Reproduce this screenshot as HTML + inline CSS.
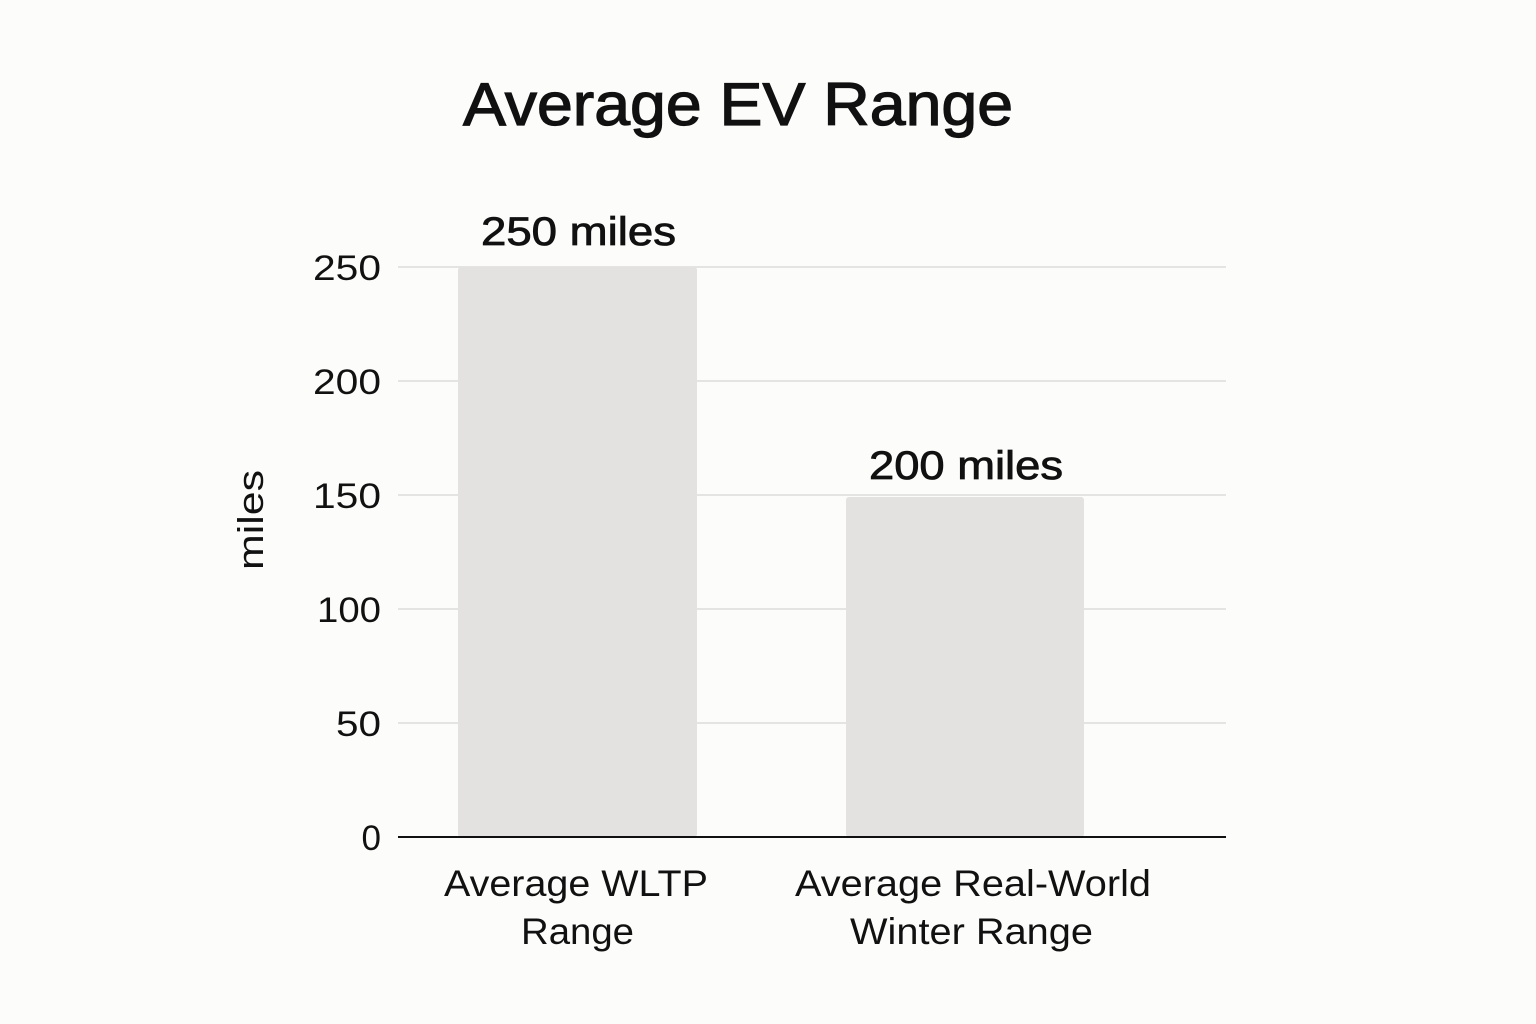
<!DOCTYPE html>
<html><head><style>
html,body{margin:0;padding:0;background:#fcfcfa;}
body{width:1536px;height:1024px;position:relative;overflow:hidden;font-family:"Liberation Sans",sans-serif;color:#111;}
</style></head><body>
<svg width="1536" height="1024" style="position:absolute;left:0;top:0">
<g stroke="#e4e4e2" stroke-width="2">
<line x1="398" y1="267" x2="1226" y2="267"/>
<line x1="398" y1="381" x2="1226" y2="381"/>
<line x1="398" y1="495" x2="1226" y2="495"/>
<line x1="398" y1="609" x2="1226" y2="609"/>
<line x1="398" y1="723" x2="1226" y2="723"/>
</g>
<rect x="458" y="267" width="239" height="570" rx="3" fill="#e4e2e0"/>
<rect x="846" y="497" width="238" height="340" rx="3" fill="#e4e2e0"/>
<line x1="398" y1="837" x2="1226" y2="837" stroke="#111" stroke-width="2"/>
<g font-family="Liberation Sans, sans-serif" fill="#111">
<text x="463" y="125" font-size="60" textLength="550" lengthAdjust="spacingAndGlyphs" stroke="#111" stroke-width="1.2">Average EV Range</text>
<text x="481" y="245" font-size="40" textLength="195" lengthAdjust="spacingAndGlyphs" stroke="#111" stroke-width="0.8">250 miles</text>
<text x="869" y="479" font-size="40" textLength="194" lengthAdjust="spacingAndGlyphs" stroke="#111" stroke-width="0.8">200 miles</text>
<g font-size="35" text-anchor="end">
<text x="381" y="280" textLength="68" lengthAdjust="spacingAndGlyphs">250</text>
<text x="381" y="394" textLength="68" lengthAdjust="spacingAndGlyphs">200</text>
<text x="381" y="508" textLength="68" lengthAdjust="spacingAndGlyphs">150</text>
<text x="381" y="622" textLength="64" lengthAdjust="spacingAndGlyphs">100</text>
<text x="381" y="736" textLength="45" lengthAdjust="spacingAndGlyphs">50</text>
<text x="381" y="850">0</text>
</g>
<text transform="translate(263,570) rotate(-90)" font-size="36" textLength="100" lengthAdjust="spacingAndGlyphs">miles</text>
<g font-size="37">
<text x="444" y="896" textLength="264" lengthAdjust="spacingAndGlyphs">Average WLTP</text>
<text x="521" y="944" textLength="113" lengthAdjust="spacingAndGlyphs">Range</text>
<text x="795" y="896" textLength="356" lengthAdjust="spacingAndGlyphs">Average Real-World</text>
<text x="850" y="944" textLength="243" lengthAdjust="spacingAndGlyphs">Winter Range</text>
</g>
</g>
</svg>
</body></html>
